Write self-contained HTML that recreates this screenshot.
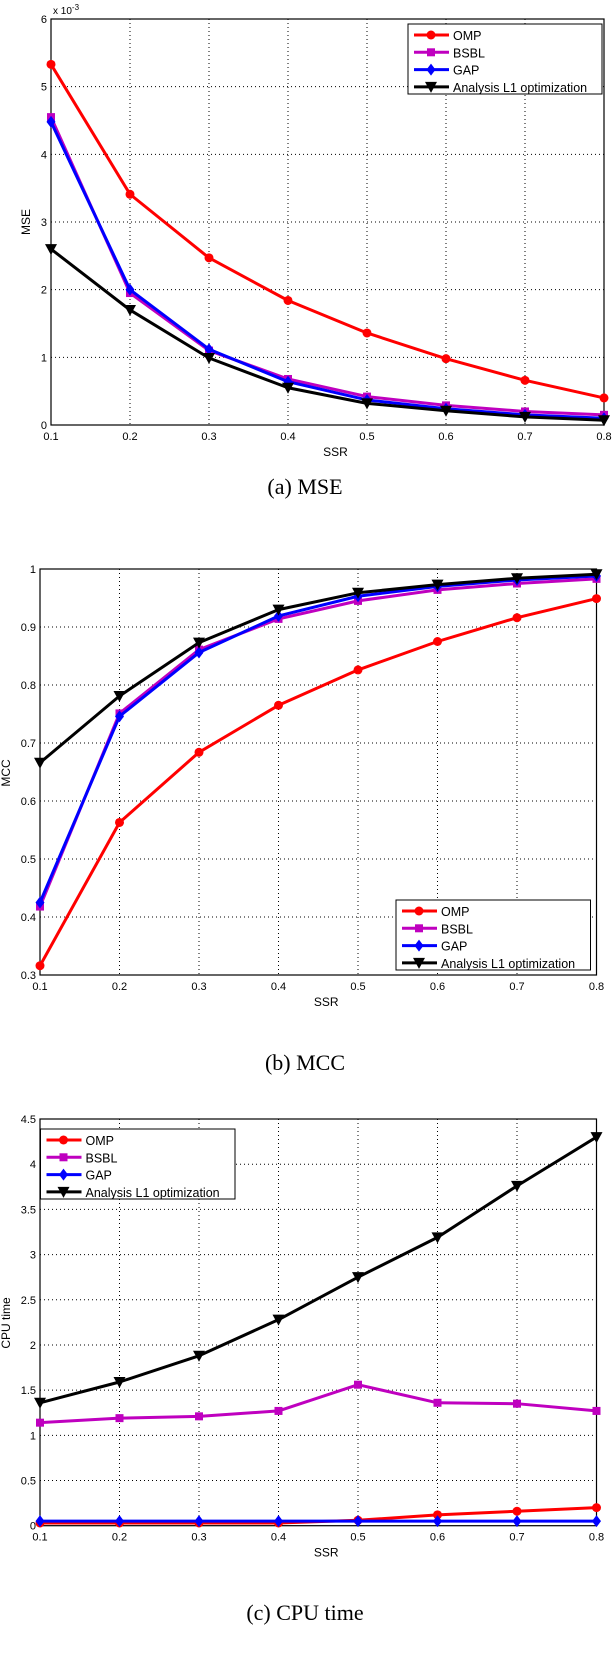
<!DOCTYPE html>
<html><head><meta charset="utf-8"><style>
body{margin:0;background:#fff;}
svg text{font-family:"Liberation Sans",sans-serif;}
.cap{font-family:"Liberation Serif",serif;}
</style></head><body>
<svg id="s" width="614" height="1656" xmlns="http://www.w3.org/2000/svg"></svg>
<script>
const categories=[0.1,0.2,0.3,0.4,0.5,0.6,0.7,0.8];
const seriesNames=['OMP','BSBL','GAP','Analysis L1 optimization'];
const mseOMP=[5.33,3.41,2.47,1.84,1.36,0.98,0.66,0.40];
const mseBSBL=[4.55,1.95,1.10,0.68,0.42,0.29,0.20,0.15];
const mseGAP=[4.48,2.00,1.12,0.64,0.37,0.24,0.15,0.10];
const mseL1=[2.60,1.70,0.99,0.55,0.32,0.21,0.12,0.07];
const mseTicks=['0','1','2','3','4','5','6'];
const mccOMP=[0.316,0.563,0.684,0.765,0.826,0.875,0.916,0.949];
const mccBSBL=[0.418,0.751,0.861,0.914,0.945,0.964,0.975,0.983];
const mccGAP=[0.425,0.746,0.856,0.919,0.953,0.970,0.981,0.988];
const mccL1=[0.666,0.781,0.873,0.930,0.959,0.973,0.984,0.991];
const mccTicks=['0.3','0.4','0.5','0.6','0.7','0.8','0.9','1'];
const cpuOMP=[0.03,0.03,0.03,0.03,0.06,0.12,0.16,0.20];
const cpuBSBL=[1.14,1.19,1.21,1.27,1.56,1.36,1.35,1.27];
const cpuGAP=[0.05,0.05,0.05,0.05,0.05,0.05,0.05,0.05];
const cpuL1=[1.36,1.59,1.88,2.28,2.75,3.19,3.76,4.30];
const cpuTicks=['0','0.5','1','1.5','2','2.5','3','3.5','4','4.5'];
const xTicks=['0.1','0.2','0.3','0.4','0.5','0.6','0.7','0.8'];

const NS='http://www.w3.org/2000/svg';
const svg=document.getElementById('s');
function mk(tag,attrs,parent){const e=document.createElementNS(NS,tag);for(const k in attrs)e.setAttribute(k,attrs[k]);(parent||svg).appendChild(e);return e;}
const colors=['#ff0000','#bf00bf','#0000ff','#000000'];
function marker(g,type,x,y,c){
  let m;
  if(type===0)m=mk('circle',{cx:x,cy:y,r:4.5,fill:c},g);
  else if(type===1)m=mk('rect',{x:x-4,y:y-4,width:8,height:8,fill:c},g);
  else if(type===2)m=mk('polygon',{points:`${x},${y-6} ${x+4.5},${y} ${x},${y+6} ${x-4.5},${y}`,fill:c},g);
  else m=mk('polygon',{points:`${x-6},${y-5} ${x+6},${y-5} ${x},${y+6}`,fill:c},g);
  
  
}
function chart(o){
  const g=mk('g',{});
  
  
  const L=o.l,R=o.r,T=o.t,B=o.b;
  const xs=v=>L+(v-0.1)/0.7*(R-L);
  const ys=v=>B-(v-o.ymin)/(o.ymax-o.ymin)*(B-T);
  // grid
  categories.forEach((c,i)=>{
    const x=xs(c);
    if(i>0&&i<categories.length-1){const gl=mk('line',{x1:x,y1:T,x2:x,y2:B,stroke:'#000','stroke-width':1,'stroke-dasharray':'1,3'},g);}
    const t=mk('text',{x:x,y:B+15,'font-size':11,'text-anchor':'middle'},g);t.textContent=xTicks[i];
    
  });
  o.ticks.forEach((lab,i)=>{
    const v=parseFloat(lab);const y=ys(v);
    if(i>0&&i<o.ticks.length-1){const gl=mk('line',{x1:L,y1:y,x2:R,y2:y,stroke:'#000','stroke-width':1,'stroke-dasharray':'1,3'},g);}
    const t=mk('text',{x:L-4,y:y+4,'font-size':11,'text-anchor':'end'},g);t.textContent=lab;
    
  });
  const ax=mk('rect',{x:L,y:T,width:R-L,height:B-T,fill:'none',stroke:'#000','stroke-width':1.2},g);
  
  o.series.forEach((arr,si)=>{
    const pts=arr.map((v,i)=>xs(categories[i])+','+ys(v)).join(' ');
    const pl=mk('polyline',{points:pts,fill:'none',stroke:colors[si],'stroke-width':3,'stroke-linejoin':'round'},g);
    
    
    arr.forEach((v,i)=>marker(g,si,xs(categories[i]),ys(v),colors[si]));
  });
  const xl=mk('text',{x:(L+R)/2+8,y:B+31,'font-size':12,'text-anchor':'middle'},g);xl.textContent='SSR';
  
  const yl=mk('text',{x:o.ylx,y:o.yly,'font-size':12,'text-anchor':'middle',transform:`rotate(-90 ${o.ylx} ${o.yly})`},g);yl.textContent=o.ylabel;
  
  // legend
  const lg=mk('g',{},g);
  
  mk('rect',{x:o.lx,y:o.ly,width:o.lw,height:o.lh,fill:'#fff',stroke:'#000','stroke-width':1},lg);
  seriesNames.forEach((n,i)=>{
    const y=o.ly+11+i*17.3;
    const e=mk('g',{},lg);
    
    mk('line',{x1:o.lx+6,y1:y,x2:o.lx+41,y2:y,stroke:colors[i],'stroke-width':3},e);
    marker(e,i,o.lx+23,y,colors[i]);
    const t=mk('text',{x:o.lx+45,y:y+5,'font-size':12.5},e);t.textContent=n;
  });
  const cap=mk('text',{x:305,y:o.capy,'font-size':22,'text-anchor':'middle',class:'cap'},svg);cap.textContent=o.caption;
  
}
chart({name:'mse-chart',l:51,r:604,t:19,b:425,ymin:0,ymax:6,ticks:mseTicks,series:[mseOMP,mseBSBL,mseGAP,mseL1],
 ylabel:'MSE',ylx:30,yly:222,lx:408,ly:24,lw:194,lh:70,caption:'(a) MSE',capy:494});
const ex=mk('text',{x:53,y:14,'font-size':10},svg);ex.innerHTML='x 10<tspan dy="-4" font-size="8">-3</tspan>';

chart({name:'mcc-chart',l:40,r:596.5,t:569,b:975,ymin:0.3,ymax:1,ticks:mccTicks,series:[mccOMP,mccBSBL,mccGAP,mccL1],
 ylabel:'MCC',ylx:10,yly:773,lx:396,ly:900,lw:194.5,lh:70,caption:'(b) MCC',capy:1070});
chart({name:'cpu-chart',l:40,r:596.5,t:1119,b:1525.7,ymin:0,ymax:4.5,ticks:cpuTicks,series:[cpuOMP,cpuBSBL,cpuGAP,cpuL1],
 ylabel:'CPU time',ylx:10,yly:1323,lx:40.5,ly:1129,lw:194.5,lh:70,caption:'(c) CPU time',capy:1620});
</script>
</body></html>
